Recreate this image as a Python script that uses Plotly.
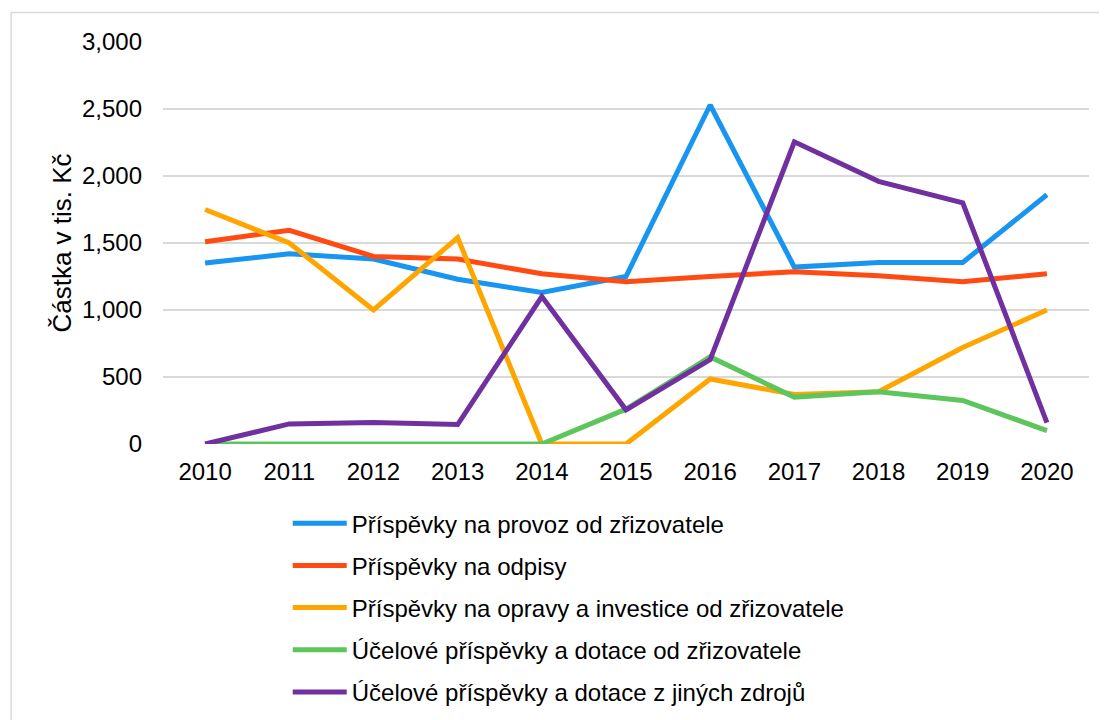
import plotly.graph_objects as go

years = ["2010", "2011", "2012", "2013", "2014", "2015", "2016", "2017", "2018", "2019", "2020"]

provoz = [1350, 1420, 1380, 1230, 1130, 1250, 2530, 1320, 1355, 1355, 1860]
odpisy = [1510, 1595, 1400, 1380, 1270, 1210, 1250, 1285, 1255, 1210, 1270]
opravy = [1750, 1500, 1000, 1540, 0, 0, 485, 370, 390, 720, 1000]
ucelove_zriz = [0, 0, 0, 0, 0, 260, 650, 350, 390, 325, 100]
ucelove_jine = [0, 150, 160, 145, 1100, 255, 630, 2255, 1960, 1800, 160]

names = [
    "Příspěvky na provoz od zřizovatele",
    "Příspěvky na odpisy",
    "Příspěvky na opravy a investice od zřizovatele",
    "Účelové příspěvky a dotace od zřizovatele",
    "Účelové příspěvky a dotace z jiných zdrojů",
]
colors = ["#1895F0", "#FF4A12", "#FFA500", "#5CC55C", "#7030A0"]
series = [provoz, odpisy, opravy, ucelove_zriz, ucelove_jine]

fig = go.Figure()
for i, (name, vals, col) in enumerate(zip(names, series, colors)):
    fig.add_trace(go.Scatter(
        x=years, y=vals, name=name, mode="lines",
        line=dict(color=col, width=5),
        legendgroup=str(i),
    ))

font = "Liberation Sans"

# the page adds an 8px body margin, so margins are shifted by 8px
fig.update_layout(
    width=1107, height=720,
    margin=dict(l=155, r=26, t=34, b=284, autoexpand=False),
    paper_bgcolor="white", plot_bgcolor="white",
    font=dict(family=font, size=24, color="black"),
    showlegend=True,
    legend=dict(
        x=0.1347, y=-0.142, xanchor="left", yanchor="top",
        orientation="v", tracegroupgap=8,
        font=dict(family=font, size=24, color="black"),
        itemwidth=54,
    ),
    xaxis=dict(
        type="category", range=[-0.5, 10.5],
        showgrid=False, zeroline=False, showline=False,
        ticks="", ticklabelstandoff=11,
        tickfont=dict(family=font, size=24),
    ),
    yaxis=dict(
        range=[0, 3000], dtick=500, tickformat=",d",
        showgrid=True, gridcolor="#D9D9D9", gridwidth=1.5,
        zeroline=False, showline=False, ticks="",
        ticklabelstandoff=20,
        tickfont=dict(family=font, size=24),
        title=dict(text="Částka v tis. Kč", standoff=2,
                   font=dict(family=font, size=26)),
    ),
    shapes=[dict(
        type="rect", xref="paper", yref="paper",
        x0=-0.164, x1=1.1, y0=-0.8, y1=1.0734,
        line=dict(color="#D9D9D9", width=1.5), fillcolor="rgba(0,0,0,0)",
        layer="below",
    )],
)

fig.write_html("out.html")
